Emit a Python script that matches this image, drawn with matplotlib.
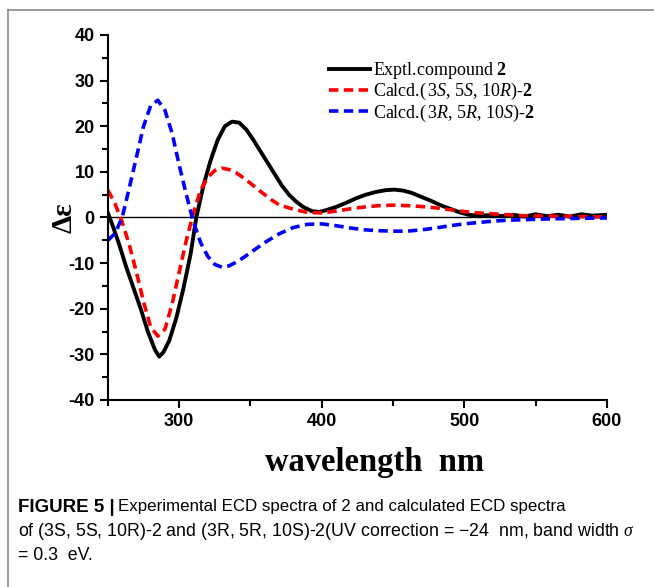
import matplotlib
matplotlib.use("Agg")
import matplotlib.pyplot as plt
from matplotlib.lines import Line2D
from matplotlib.ticker import MultipleLocator

# experimental ECD curve
exp_wl = [250, 253, 258, 263, 268, 273, 278, 283, 286, 289,
          293, 298, 303, 308, 312, 317, 322, 327, 332, 337,
          342, 347, 352, 357, 362, 367, 372, 377, 382, 387,
          393, 398, 403, 410, 417, 424, 431, 438, 445, 451,
          457, 463, 470, 477, 484, 491, 497, 503, 510, 518,
          526, 534, 542, 550, 558, 566, 574, 582, 590, 600]
exp_de = [1.0, -1.5, -6, -11, -15.5, -20, -25, -29, -30.5, -29.5,
          -27, -22, -15.5, -8, 0, 7, 12.5, 17, 20, 21,
          20.8, 19.3, 17, 14.5, 12, 9.5, 7, 5, 3.5, 2.3,
          1.4, 1.2, 1.6, 2.3, 3.2, 4.2, 5, 5.6, 6, 6.1,
          5.9, 5.4, 4.5, 3.6, 2.6, 1.8, 1.1, 0.6, 0.4, 0.5,
          0.3, 0.6, 0.2, 0.7, 0.3, 0.6, 0.2, 0.7, 0.4, 0.6]

# calculated (3S,5S,10R)
ssr_wl = [250, 255, 260, 265, 270, 275, 280, 285, 290, 295,
          300, 305, 310, 315, 320, 325, 330, 335, 340, 345,
          350, 355, 360, 365, 370, 380, 390, 400, 410, 420,
          430, 440, 450, 460, 470, 480, 490, 500, 510, 520,
          530, 540, 560, 580, 600]
ssr_de = [6, 3, -1, -6, -12, -18.5, -24, -26, -24.5, -19,
          -12, -5, 1, 6, 8.8, 10.3, 10.8, 10.5, 9.8, 8.7,
          7.5, 6.2, 5, 3.8, 2.8, 1.8, 1.1, 1, 1.4, 1.9,
          2.3, 2.6, 2.7, 2.6, 2.4, 2.1, 1.7, 1.3, 1.0, 0.8,
          0.6, 0.4, 0.3, 0.2, 0.1]

# calculated (3R,5R,10S)
rrs_wl = [250, 255, 260, 265, 270, 275, 280, 285, 290, 295,
          300, 305, 310, 315, 320, 325, 330, 335, 340, 345,
          350, 355, 360, 370, 380, 390, 400, 410, 420, 430,
          440, 450, 460, 470, 480, 490, 500, 510, 520, 530,
          540, 560, 580, 600]
rrs_de = [-5, -3.5, 0, 6.5, 13.2, 20, 24.5, 25.7, 23.5, 18.5,
          11.5, 5, -1, -5.5, -8.5, -10.3, -10.9, -10.6, -9.8, -8.8,
          -7.7, -6.6, -5.5, -3.6, -2.2, -1.5, -1.4, -1.8, -2.3, -2.7,
          -2.9, -3, -3, -2.7, -2.3, -1.8, -1.4, -1.1, -0.8, -0.6,
          -0.5, -0.3, -0.2, -0.1]

plt.rcParams['axes.unicode_minus'] = False
plt.rcParams['mathtext.fontset'] = 'custom'
plt.rcParams['mathtext.rm'] = 'Liberation Serif'
plt.rcParams['mathtext.it'] = 'Liberation Serif:italic'
plt.rcParams['mathtext.bf'] = 'Liberation Serif:bold'

fig = plt.figure(figsize=(6.54, 5.87), dpi=100)
ax = fig.add_axes([0.165, 0.3186, 0.763, 0.6218])

ax.axhline(0, color='black', lw=1.0, zorder=1)
ax.plot(exp_wl, exp_de, color='black', lw=2.8, label='Exptl.compound $\\mathbf{2}$')
ax.plot(ssr_wl, ssr_de, color='#ff0000', lw=2.6, dashes=(2.6, 1.5),
        label='Calcd.($\\,$3$\\mathit{S}$, 5$\\mathit{S}$, 10$\\mathit{R}$)-$\\mathbf{2}$')
ax.plot(rrs_wl, rrs_de, color='#0000ff', lw=2.6, dashes=(2.6, 1.5),
        label='Calcd.($\\,$3$\\mathit{R}$, 5$\\mathit{R}$, 10$\\mathit{S}$)-$\\mathbf{2}$')

ax.set_xlim(250, 600)
ax.set_ylim(-40, 40)
ax.xaxis.set_major_locator(MultipleLocator(100))
ax.xaxis.set_minor_locator(MultipleLocator(50))
ax.yaxis.set_major_locator(MultipleLocator(10))
ax.yaxis.set_minor_locator(MultipleLocator(5))
ax.set_xticks([300, 400, 500, 600])

for s in ['top', 'right']:
    ax.spines[s].set_visible(False)
for s in ['left', 'bottom']:
    ax.spines[s].set_linewidth(1.5)
ax.tick_params(which='major', direction='out', length=6, width=1.5)
ax.tick_params(which='minor', direction='out', length=4, width=1.5)
for lab in ax.get_xticklabels() + ax.get_yticklabels():
    lab.set_fontfamily('Liberation Sans')
    lab.set_fontweight('bold')
    lab.set_fontsize(13)

ax.set_xlabel('wavelength  nm', fontfamily='Liberation Serif', fontweight='bold',
              fontsize=23.5, labelpad=12)
ax.xaxis.label.set_x(0.535)
ax.set_ylabel('Δε', fontfamily='Liberation Serif', fontweight='bold', fontsize=21)
ax.yaxis.set_label_coords(-0.06, 0.5)

leg = ax.legend(loc='upper left', bbox_to_anchor=(0.41, 0.975), frameon=False,
                prop={'family': 'Liberation Serif', 'size': 13},
                handlelength=2.3, handletextpad=0.15, labelspacing=0.0)

# outer frame of the figure panel
fig.add_artist(Line2D([8 / 654, 1], [1 - 10 / 587, 1 - 10 / 587], color='#8a8a8a', lw=1.2))
fig.add_artist(Line2D([8 / 654, 8 / 654], [0, 1 - 10 / 587], color='#8a8a8a', lw=1.2))

# caption
cx = 18 / 654
head = fig.text(cx, 1 - 507 / 587, 'FIGURE 5 |', fontfamily='Liberation Sans', fontweight='bold',
                fontsize=13.5, va='center')
renderer = fig.canvas.get_renderer()
hx = head.get_window_extent(renderer).x1 / fig.bbox.width
fig.text(hx + 3 / 654, 1 - 507 / 587, 'Experimental ECD spectra of 2 and calculated ECD spectra',
         fontfamily='Liberation Sans', fontsize=12.2, va='center')
fig.text(cx, 1 - 532 / 587,
         'of (3S, 5S, 10R)-2 and (3R, 5R, 10S)-2(UV correction = \u221224  nm, band width $\\mathit{\\sigma}$',
         fontfamily='Liberation Sans', fontsize=12.8, va='center')
fig.text(cx, 1 - 555 / 587, '= 0.3  eV.', fontfamily='Liberation Sans', fontsize=12.8, va='center')

fig.savefig('out.png', dpi=100)
